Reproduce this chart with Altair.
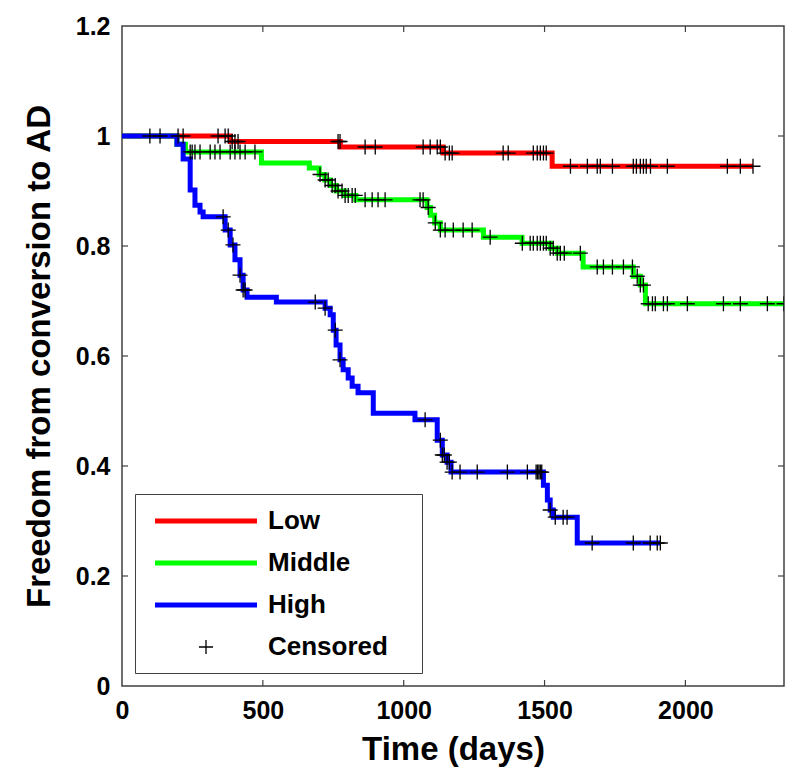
import altair as alt
import pandas as pd
import numpy as np

# ---------------- data ----------------
GROUPS = ["Low", "Middle", "High", "Censored"]
COLORS = ["#ff0000", "#00ff00", "#0000ff", "#000000"]

LOW_T = [0, 385, 775, 1140, 1527]
LOW_S = [1.0, 0.99, 0.98, 0.969, 0.945]
LOW_END = 2240
LOW_CENS = [99, 135, 199, 217, 341, 366, 377, 391, 401, 412, 767, 774, 863, 899,
            1069, 1094, 1119, 1130, 1147, 1162, 1172, 1353, 1371, 1460, 1474,
            1485, 1496, 1506, 1592, 1652, 1687, 1698, 1741, 1815, 1826, 1840,
            1851, 1861, 1876, 1936, 2149, 2195, 2240]

MID_T = [0, 195, 225, 495, 665, 700, 720, 740, 760, 790, 830, 1083, 1095, 1110,
         1130, 1283, 1420, 1520, 1545, 1637, 1815, 1840, 1858]
MID_S = [1.0, 0.985, 0.971, 0.951, 0.942, 0.93, 0.92, 0.91, 0.90, 0.892, 0.884,
         0.87, 0.856, 0.842, 0.829, 0.816, 0.805, 0.796, 0.787, 0.762, 0.745,
         0.729, 0.695]
MID_END = 2350
MID_CENS = [242, 249, 259, 277, 313, 330, 348, 384, 401, 419, 437, 472, 703, 721,
            732, 746, 757, 767, 781, 792, 803, 817, 828, 863, 888, 909, 934, 1058,
            1069, 1087, 1112, 1130, 1147, 1176, 1211, 1243, 1307, 1421, 1449, 1460,
            1474, 1485, 1496, 1506, 1520, 1531, 1545, 1556, 1570, 1627, 1687, 1709,
            1741, 1780, 1812, 1829, 1840, 1851, 1868, 1883, 1893, 1922, 1936, 2007,
            2135, 2195, 2291, 2350]

HIGH_T = [0, 195, 217, 242, 259, 277, 288, 366, 384, 401, 419, 430, 444, 548,
          721, 739, 750, 760, 774, 785, 803, 817, 838, 892, 1040, 1119, 1137,
          1154, 1168, 1496, 1510, 1520, 1531, 1616]
HIGH_S = [1.0, 0.985, 0.958, 0.902, 0.874, 0.862, 0.853, 0.829, 0.802, 0.775,
          0.747, 0.72, 0.707, 0.698, 0.687, 0.675, 0.647, 0.62, 0.593, 0.575,
          0.56, 0.545, 0.533, 0.496, 0.484, 0.447, 0.42, 0.407, 0.389, 0.365,
          0.338, 0.32, 0.307, 0.26]
HIGH_END = 1911
HIGH_CENS = [359, 377, 394, 419, 430, 437, 686, 721, 757, 774, 1076, 1130, 1137,
             1144, 1154, 1162, 1172, 1200, 1261, 1368, 1439, 1470, 1475, 1480,
             1485, 1490, 1520, 1538, 1566, 1580, 1669, 1815, 1875, 1900, 1911]

X_TICKS = [0, 500, 1000, 1500, 2000]
Y_TICKS = [0, 0.2, 0.4, 0.6, 0.8, 1.0, 1.2]
X_MAX = 2350
Y_MAX = 1.2

# ---------------- build tables ----------------
series = [("Low", LOW_T, LOW_S, LOW_END, LOW_CENS),
          ("Middle", MID_T, MID_S, MID_END, MID_CENS),
          ("High", HIGH_T, HIGH_S, HIGH_END, HIGH_CENS)]

line_rows = []
cens_rows = []
for name, T, S, end, cens in series:
    for t, s in zip(T, S):
        line_rows.append({"grp": name, "time": t, "surv": s})
    line_rows.append({"grp": name, "time": end, "surv": S[-1]})
    Ta = np.array(T)
    for c in cens:
        idx = int(np.searchsorted(Ta, c, side="right")) - 1
        cens_rows.append({"grp": "Censored", "series": name, "time": c, "surv": S[idx]})

lines_df = pd.DataFrame(line_rows)
cens_df = pd.DataFrame(cens_rows)

W, H = 662, 660
FONT = "Liberation Sans"

xscale = alt.Scale(domain=[0, X_MAX], nice=False, zero=False)
yscale = alt.Scale(domain=[0, Y_MAX], nice=False)
cscale = alt.Scale(domain=GROUPS, range=COLORS)

# legend symbols: long stroke for the groups, a thin "+" for Censored
# (trailing move-to points only widen the legend frame, nothing is drawn there)
LINE_SYM = "M-2.757,0L2.757,0M10.81,0"
CROSS_SYM = "M-0.38,0L0.38,0M0,-0.38L0,0.38M0,0.92"

legend = alt.Legend(
    title=None,
    orient="none",
    legendX=13,
    legendY=468,
    direction="vertical",
    strokeColor="#404040",
    fillColor="white",
    padding=6,
    labelFont=FONT,
    labelFontSize=26,
    labelFontWeight="bold",
    labelColor="black",
    symbolType={"expr": f"(datum.value === 'Censored' ? '{CROSS_SYM}' : '{LINE_SYM}')"},
    symbolSize=1369,
    symbolStrokeWidth={"expr": "(datum.value === 'Censored' ? 1.3 : 5)"},
    symbolOpacity=1,
    symbolOffset=44,
    labelOffset=41,
    rowPadding=8,
)

xenc = alt.X("time:Q", scale=xscale,
             axis=alt.Axis(title="Time (days)", values=X_TICKS, format="d"))
yenc = alt.Y("surv:Q", scale=yscale,
             axis=alt.Axis(title="Freedom from conversion to AD", values=Y_TICKS, format="~g"))

lines = alt.Chart(lines_df).mark_line(
    interpolate="step-after", strokeWidth=5, clip=True
).encode(
    x=xenc, y=yenc,
    color=alt.Color("grp:N", scale=cscale, legend=legend),
)

points = alt.Chart(cens_df).mark_point(
    shape="M-1,0L1,0M0,-1L0,1", size=225, strokeWidth=1.3, filled=False,
    opacity=1, clip=True
).encode(
    x=alt.X("time:Q", scale=xscale),
    y=alt.Y("surv:Q", scale=yscale),
    color=alt.Color("grp:N", scale=cscale, legend=legend),
)

# inward ticks on all four sides (MATLAB box style)
xt_df = pd.DataFrame({"t": X_TICKS[1:]})
yt_df = pd.DataFrame({"v": Y_TICKS[1:-1]})
TL = 6
tick_color = "#404040"
xt_bottom = alt.Chart(xt_df).mark_rule(color=tick_color, strokeWidth=1.2).encode(
    x=alt.X("t:Q", scale=xscale), y=alt.value(H), y2=alt.value(H - TL))
xt_top = alt.Chart(xt_df).mark_rule(color=tick_color, strokeWidth=1.2).encode(
    x=alt.X("t:Q", scale=xscale), y=alt.value(0), y2=alt.value(TL))
yt_left = alt.Chart(yt_df).mark_rule(color=tick_color, strokeWidth=1.2).encode(
    y=alt.Y("v:Q", scale=yscale), x=alt.value(0), x2=alt.value(TL))
yt_right = alt.Chart(yt_df).mark_rule(color=tick_color, strokeWidth=1.2).encode(
    y=alt.Y("v:Q", scale=yscale), x=alt.value(W - TL), x2=alt.value(W))

chart = alt.layer(
    xt_bottom, xt_top, yt_left, yt_right, lines, points
).properties(
    width=W, height=H,
    padding={"left": 114, "top": 18, "right": 8, "bottom": 90},
    autosize="none",
    background="white",
).configure_view(
    stroke="#404040", strokeWidth=1.5, fill="white"
).configure_axis(
    domain=False, ticks=False, grid=False,
    labelFont=FONT, labelFontSize=25, labelFontWeight="bold", labelColor="black",
    titleFont=FONT, titleFontSize=33, titleFontWeight="bold", titleColor="black",
    labelFlush=False, labelBound=False, labelOverlap=False,
).configure_axisX(
    labelPadding=12, titlePadding=10,
).configure_axisY(
    labelPadding=12, titlePadding=19,
)

chart.save("out.html", embed_options={"renderer": "svg", "actions": False})
